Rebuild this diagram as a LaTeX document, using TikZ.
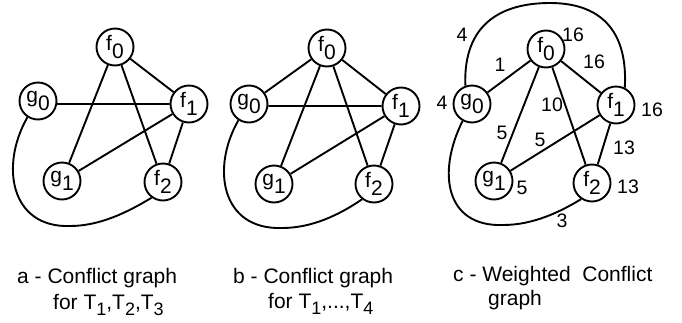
\documentclass[tikz,border=0pt]{standalone}
\usepackage{fontspec}
\setmainfont{Liberation Sans}
% index digit set at full size and dropped below the letter
\newcommand\lowdig[1]{\raisebox{-8pt}{#1}}
% smaller subscript used in the captions
\newcommand\capsub[1]{\raisebox{-6pt}{\fontsize{18}{18}\selectfont #1}}
\begin{document}
\begin{tikzpicture}[x=1pt,y=1pt,
  vtx/.style={draw, circle, line width=1.9pt, minimum size=37pt, inner sep=0pt,
              font=\fontsize{21}{21}\selectfont},
  edge/.style={line width=1.9pt},
  wt/.style={inner sep=0pt, font=\fontsize{19.5}{19.5}\selectfont},
  captxt/.style={anchor=base west, inner sep=0pt, font=\fontsize{21}{24}\selectfont}]
\useasboundingbox (0,0) rectangle (682,-322);

% ---------- graph a ----------
\node[vtx] (a-f0) at (115,-47)  {f\lowdig{0}};
\node[vtx] (a-g0) at (38,-101)  {g\lowdig{0}};
\node[vtx] (a-f1) at (189,-104) {f\lowdig{1}};
\node[vtx] (a-g1) at (62,-181)  {g\lowdig{1}};
\node[vtx] (a-f2) at (163,-182) {f\lowdig{2}};
\draw[edge] (a-f0) -- (a-f1);
\draw[edge] (a-f0) -- (a-g1);
\draw[edge] (a-f0) -- (a-f2);
\draw[edge] (a-g0.-9) -- (a-f1.west);
\draw[edge] (a-f1) -- (a-g1);
\draw[edge] (a-f1) -- (a-f2);
\draw[edge] (a-g0.237) .. controls (0,-165) and (10,-228) .. (70,-226)
            .. controls (100,-226) and (128,-212) .. (a-f2.234);

% ---------- graph b ----------
\node[vtx] (b-f0) at (327,-48)  {f\lowdig{0}};
\node[vtx] (b-g0) at (249,-104) {g\lowdig{0}};
\node[vtx] (b-f1) at (401,-106) {f\lowdig{1}};
\node[vtx] (b-g1) at (274,-184) {g\lowdig{1}};
\node[vtx] (b-f2) at (374,-184) {f\lowdig{2}};
\draw[edge] (b-f0) -- (b-g0);
\draw[edge] (b-f0) -- (b-f1);
\draw[edge] (b-f0) -- (b-g1);
\draw[edge] (b-f0) -- (b-f2);
\draw[edge] (b-g0.-6) -- (b-f1.west);
\draw[edge] (b-f1) -- (b-g1);
\draw[edge] (b-f1) -- (b-f2);
\draw[edge] (b-g0.237) .. controls (211,-168) and (221,-230) .. (282,-228)
            .. controls (312,-228) and (339,-215) .. (b-f2.232);

% ---------- graph c (weighted) ----------
\node[vtx] (c-f0) at (546,-49)  {f\lowdig{0}};
\node[vtx] (c-g0) at (472,-104) {g\lowdig{0}};
\node[vtx] (c-f1) at (616,-105) {f\lowdig{1}};
\node[vtx] (c-g1) at (494,-181) {g\lowdig{1}};
\node[vtx] (c-f2) at (592,-183) {f\lowdig{2}};
\draw[edge] (c-f0) -- (c-g0);
\draw[edge] (c-f0) -- (c-f1);
\draw[edge] (c-f0) -- (c-g1);
\draw[edge] (c-f0) -- (c-f2);
\draw[edge] (c-f1) -- (c-g1);
\draw[edge] (c-f1) -- (c-f2);
\draw[edge] (c-g0.110) .. controls (463,-25) and (500,-3) .. (550,-3)
            .. controls (600,-3) and (628,-30) .. (c-f1.63);
\draw[edge] (c-g0.241) .. controls (437,-172) and (445,-227) .. (503,-225)
            .. controls (533,-225) and (560,-212) .. (c-f2.236);

% weights
\node[wt] (w-top)   at (462,-35)  {4};
\node[wt] (w-f0)    at (573,-35)  {16};
\node[wt] (w-g0f0)  at (500,-65)  {1};
\node[wt] (w-f0f1)  at (594,-62)  {16};
\node[wt] (w-f1)    at (652,-110) {16};
\node[wt] (w-g0)    at (442,-103) {4};
\node[wt] (w-f0f2)  at (552,-105) {10};
\node[wt] (w-f0g1)  at (502,-133) {5};
\node[wt] (w-f1g1)  at (540,-140) {5};
\node[wt] (w-f1f2)  at (624,-148) {13};
\node[wt] (w-g1)    at (522,-188) {5};
\node[wt] (w-f2)    at (628,-187) {13};
\node[wt] (w-bot)   at (562,-221) {3};

% ---------- captions ----------
\node[captxt] (cap-a1) at (17,-283)  {a - Conflict graph};
\node[captxt] (cap-a2) at (53,-309)  {for T\capsub{1},T\capsub{2},T\capsub{3}};
\node[captxt] (cap-b1) at (233,-283) {b - Conflict graph};
\node[captxt] (cap-b2) at (268,-308) {for T\capsub{1},...,T\capsub{4}};
\node[captxt] (cap-c1) at (453,-281) {c - Weighted\ \ Conflict};
\node[captxt] (cap-c2) at (488,-305) {graph};
\end{tikzpicture}
\end{document}
